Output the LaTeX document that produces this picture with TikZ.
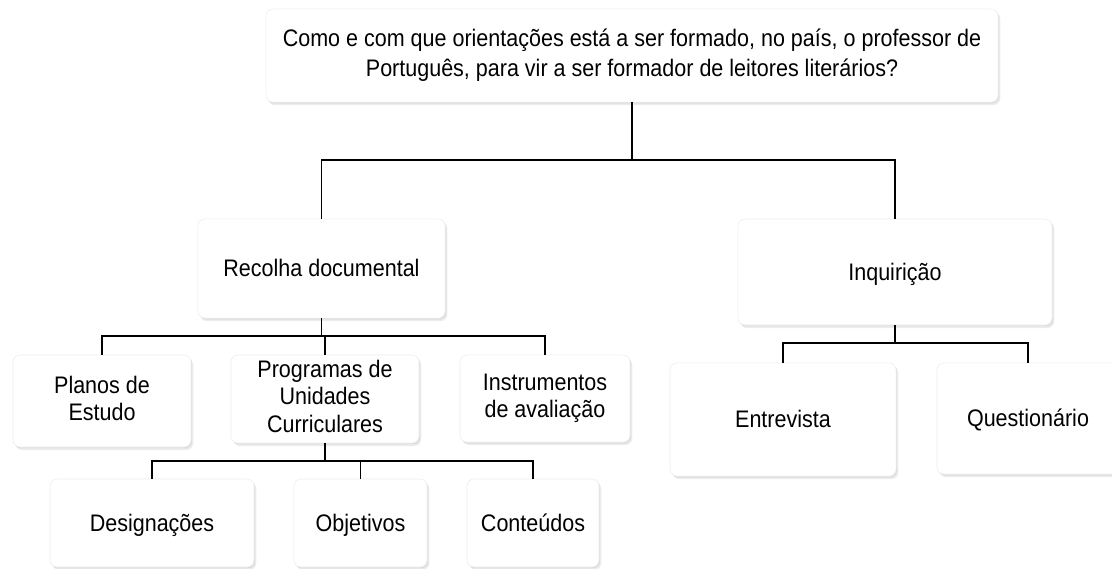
\documentclass[tikz,border=0pt]{standalone}
\usepackage{fontspec}
\setmainfont[FakeStretch=0.9]{Liberation Sans}
\usepackage{tikz}
\usetikzlibrary{shadows}
\newcommand{\boxstrut}{\vrule width 0pt height 16pt depth 4pt\relax}
\tikzstyle{box} = [rectangle, rounded corners=5pt, fill=white, draw=black!7, align=center, inner sep=2pt, font=\fontsize{17}{19.5}\selectfont, execute at begin node=\boxstrut, execute at end node=\boxstrut, drop shadow={shadow xshift=0.8pt, shadow yshift=-1pt, opacity=0.15}, drop shadow={shadow xshift=1.6pt, shadow yshift=-2.2pt, opacity=0.15}]
\tikzstyle{link} = [line width=1.3pt, black]

\begin{document}
\begin{tikzpicture}[x=0.025cm, y=-0.025cm]
\useasboundingbox (0,0) rectangle (1112,568);

\node (question) [box, minimum width=18.3cm, minimum height=2.33cm, font=\fontsize{17}{21}\selectfont] at (632,55.5) {Como e com que orientações está a ser formado, no país, o professor de\\Português, para vir a ser formador de leitores literários?};

\node (recolha) [box, minimum width=6.18cm, minimum height=2.48cm] at (321.5,268.5) {Recolha documental};
\node (inquiricao) [box, minimum width=7.85cm, minimum height=2.65cm] at (895,272) {Inquirição};

\node (planos) [box, minimum width=4.45cm, minimum height=2.3cm] at (102,401) {Planos de\\Estudo};
\node (programas) [box, minimum width=4.7cm, minimum height=2.2cm] at (325,399) {Programas de\\Unidades\\Curriculares};
\node (instrumentos) [box, minimum width=4.25cm, minimum height=2.18cm] at (545,398.5) {Instrumentos\\de avaliação};

\node (entrevista) [box, minimum width=5.65cm, minimum height=2.83cm] at (783,419.5) {Entrevista};
\node (questionario) [box, minimum width=4.55cm, minimum height=2.78cm] at (1028,418.5) {Questionário};

\node (designacoes) [box, minimum width=5.1cm, minimum height=2.2cm] at (152,523) {Designações};
\node (objetivos) [box, minimum width=3.33cm, minimum height=2.2cm] at (360.5,523) {Objetivos};
\node (conteudos) [box, minimum width=3.3cm, minimum height=2.2cm] at (533,523) {Conteúdos};

\draw [link] (question.south) -- ++(0,58) -| (recolha.north);
\draw [link] (question.south) -- ++(0,58) -| (inquiricao.north);

\draw [link] (recolha.south) -- ++(0,18) -| (planos.north);
\draw [link] (recolha.south) -- ++(0,18) -| (programas.north);
\draw [link] (recolha.south) -- ++(0,18) -| (instrumentos.north);

\draw [link] (programas.south) -- ++(0,18) -| (designacoes.north);
\draw [link] (programas.south) -- ++(0,18) -| (objetivos.north);
\draw [link] (programas.south) -- ++(0,18) -| (conteudos.north);

\draw [link] (inquiricao.south) -- ++(0,18) -| (entrevista.north);
\draw [link] (inquiricao.south) -- ++(0,18) -| (questionario.north);

\end{tikzpicture}
\end{document}
